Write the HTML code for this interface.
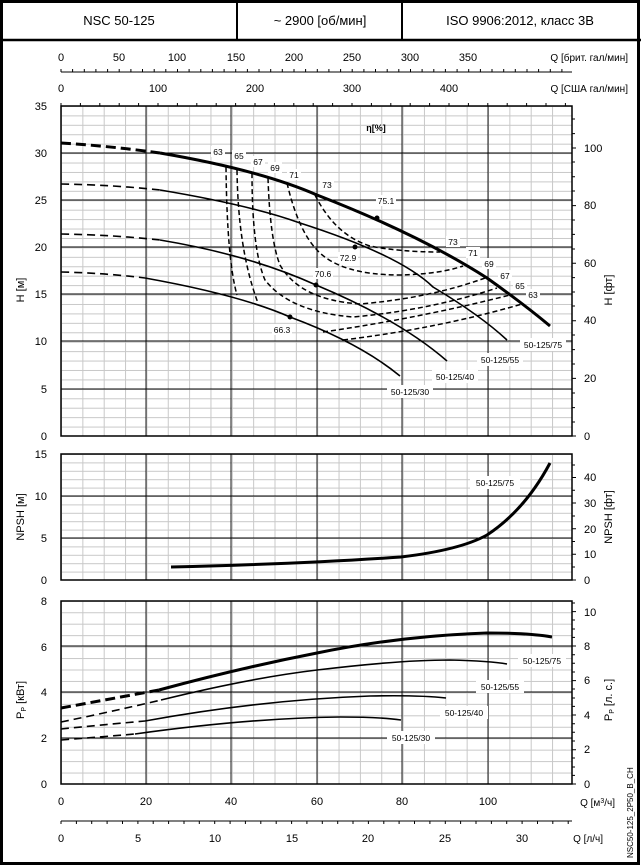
<!DOCTYPE html>
<html><head><meta charset="utf-8"><style>
html,body{margin:0;padding:0;background:#fff}
svg{display:block}
text{font-family:"Liberation Sans",sans-serif;fill:#000}
.s{font-size:11px}
.m{font-size:9px}
</style></head><body>
<svg width="641" height="866" viewBox="0 0 641 866" xmlns="http://www.w3.org/2000/svg">
<defs>
<pattern id="pv" x="61" y="0" width="21.35" height="10" patternUnits="userSpaceOnUse"><line x1="0.5" y1="0" x2="0.5" y2="10" stroke="#c8c8c8" stroke-width="1"/></pattern>
<pattern id="ph" x="0" y="436" width="10" height="9.43" patternUnits="userSpaceOnUse"><line x1="0" y1="0.5" x2="10" y2="0.5" stroke="#c8c8c8" stroke-width="1"/></pattern>
<pattern id="pn" x="0" y="580" width="10" height="8.4" patternUnits="userSpaceOnUse"><line x1="0" y1="0.5" x2="10" y2="0.5" stroke="#c8c8c8" stroke-width="1"/></pattern>
<pattern id="pp" x="0" y="784" width="10" height="11.45" patternUnits="userSpaceOnUse"><line x1="0" y1="0.5" x2="10" y2="0.5" stroke="#c8c8c8" stroke-width="1"/></pattern>
</defs>
<!-- border -->
<rect x="1.5" y="1.5" width="637" height="862" fill="none" stroke="#000" stroke-width="3"/>
<line x1="0" y1="40" x2="641" y2="40" stroke="#000" stroke-width="2.5"/>
<line x1="237" y1="0" x2="237" y2="40" stroke="#000" stroke-width="2"/>
<line x1="402" y1="0" x2="402" y2="40" stroke="#000" stroke-width="2"/>
<text x="119" y="25" text-anchor="middle" style="font-size:13px">NSC 50-125</text>
<text x="320" y="25" text-anchor="middle" style="font-size:13px">~ 2900 [об/мин]</text>
<text x="520" y="25" text-anchor="middle" style="font-size:13px">ISO 9906:2012, класс 3B</text>

<!-- top axes -->
<g class="s" text-anchor="middle">
<text x="61" y="61">0</text><text x="119" y="61">50</text><text x="177" y="61">100</text><text x="236" y="61">150</text><text x="294" y="61">200</text><text x="352" y="61">250</text><text x="410" y="61">300</text><text x="468" y="61">350</text>
<text x="61" y="92">0</text><text x="158" y="92">100</text><text x="255" y="92">200</text><text x="352" y="92">300</text><text x="449" y="92">400</text>
</g>
<text x="628" y="61" text-anchor="end" class="m" style="font-size:10px">Q [брит. гал/мин]</text>
<text x="628" y="92" text-anchor="end" class="m" style="font-size:10px">Q [США гал/мин]</text>
<line x1="61" y1="72" x2="572" y2="72" stroke="#000" stroke-width="1"/>
<path d="M61 72v-3M72.6 72v-3M84.3 72v-3M95.9 72v-3M107.6 72v-3M119.2 72v-3M130.9 72v-3M142.5 72v-3M154.2 72v-3M165.8 72v-3M177.5 72v-3M189.1 72v-3M200.8 72v-3M212.4 72v-3M224.1 72v-3M235.7 72v-3M247.4 72v-3M259 72v-3M270.7 72v-3M282.3 72v-3M294 72v-3M305.6 72v-3M317.3 72v-3M328.9 72v-3M340.6 72v-3M352.2 72v-3M363.9 72v-3M375.5 72v-3M387.2 72v-3M398.8 72v-3M410.5 72v-3M422.1 72v-3M433.8 72v-3M445.4 72v-3M457.1 72v-3M468.7 72v-3M480.4 72v-3M492 72v-3M503.7 72v-3M515.3 72v-3M527 72v-3M538.6 72v-3M550.3 72v-3M561.9 72v-3" stroke="#000"/>
<path d="M61 106v-3M80.4 106v-3M99.8 106v-3M119.2 106v-3M138.6 106v-3M158 106v-3M177.4 106v-3M196.8 106v-3M216.2 106v-3M235.6 106v-3M255 106v-3M274.4 106v-3M293.8 106v-3M313.2 106v-3M332.6 106v-3M352 106v-3M371.4 106v-3M390.8 106v-3M410.2 106v-3M429.6 106v-3M449 106v-3M468.4 106v-3M487.8 106v-3M507.2 106v-3M526.6 106v-3M546 106v-3M565.4 106v-3" stroke="#000"/>

<!-- ===== H chart ===== -->
<rect x="61" y="106" width="511" height="330" fill="url(#pv)"/>
<rect x="61" y="106" width="511" height="330" fill="url(#ph)"/>
<g stroke="#000" stroke-width="0.9">
<line x1="61" y1="153" x2="572" y2="153"/><line x1="61" y1="200" x2="572" y2="200"/><line x1="61" y1="247" x2="572" y2="247"/><line x1="61" y1="294" x2="572" y2="294"/><line x1="61" y1="341" x2="572" y2="341"/><line x1="61" y1="389" x2="572" y2="389"/>
<line x1="146" y1="106" x2="146" y2="436"/><line x1="231" y1="106" x2="231" y2="436"/><line x1="317" y1="106" x2="317" y2="436"/><line x1="402" y1="106" x2="402" y2="436"/><line x1="488" y1="106" x2="488" y2="436"/>
</g>
<rect x="61" y="106" width="511" height="330" fill="none" stroke="#000" stroke-width="1.5"/>
<g class="s" text-anchor="end">
<text x="47" y="110">35</text><text x="47" y="157">30</text><text x="47" y="204">25</text><text x="47" y="251">20</text><text x="47" y="298">15</text><text x="47" y="345">10</text><text x="47" y="393">5</text><text x="47" y="440">0</text>
</g>
<g stroke="#000"><path d="M572 436h4M572 422h3M572 407.6h3M572 393h3M572 378.4h4M572 364h3M572 349.6h3M572 335h3M572 320.8h4M572 306h3M572 292h3M572 277.6h3M572 263.2h4M572 249h3M572 234.4h3M572 220h3M572 205.6h4M572 191h3M572 176.8h3M572 162h3M572 148h4M572 133.6h3M572 119h3"/></g>
<g class="s"><text x="584" y="440">0</text><text x="584" y="382">20</text><text x="584" y="324">40</text><text x="584" y="267">60</text><text x="584" y="209">80</text><text x="584" y="152">100</text></g>
<text transform="translate(24,290) rotate(-90)" text-anchor="middle" class="s">H [м]</text>
<text transform="translate(612,290) rotate(-90)" text-anchor="middle" class="s">H [фт]</text>

<!-- H curves -->
<g fill="none" stroke="#000">
<path d="M61 143 Q110 146 160 153" stroke-width="3" stroke-dasharray="10,5"/>
<path d="M160 153 Q260 170 317 195 Q420 235 487 278 Q525 305 550 326" stroke-width="3"/>
<path d="M61 184 Q115 185 160 190" stroke-width="1.6" stroke-dasharray="8,5"/>
<path d="M160 190 Q250 205 300 223 Q400 255 433 287 Q480 315 507 340" stroke-width="1.6"/>
<path d="M61 234 Q115 235 160 240" stroke-width="1.6" stroke-dasharray="8,5"/>
<path d="M160 240 Q250 255 316 285 Q400 320 447 361" stroke-width="1.6"/>
<path d="M61 272 Q105 273 145 278" stroke-width="1.6" stroke-dasharray="8,5"/>
<path d="M145 278 Q240 295 290 317 Q360 343 400 376" stroke-width="1.6"/>
</g>
<!-- efficiency dashed -->
<g fill="none" stroke="#000" stroke-width="1.5" stroke-dasharray="5,3">
<path d="M315 195 Q335 235 370 246 Q400 252 440 252"/>
<path d="M287 183 Q298 230 317 250 Q340 275 400 275 Q440 274 463 266"/>
<path d="M268 178 Q270 240 280 265 Q300 300 360 304 Q430 298 485 278"/>
<path d="M252 173 Q252 250 265 280 Q290 312 353 317 Q430 310 497 288"/>
<path d="M237 170 Q238 250 258 303"/>
<path d="M323 332 Q420 318 510 295"/>
<path d="M226 167 Q227 260 237 295"/>
<path d="M343 340 Q440 328 522 304"/>
</g>
<g fill="#000"><circle cx="377" cy="218" r="2.5"/><circle cx="355" cy="247" r="2.5"/><circle cx="316" cy="285" r="2.5"/><circle cx="290" cy="317" r="2.5"/></g>
<g class="m" text-anchor="middle" style="font-size:8.5px">
<g fill="#fff" stroke="none">
<rect x="211" y="146" width="14" height="11"/><rect x="232" y="150" width="14" height="11"/><rect x="251" y="156" width="14" height="11"/><rect x="268" y="162" width="14" height="11"/><rect x="287" y="169" width="14" height="11"/><rect x="320" y="179" width="14" height="11"/><rect x="376" y="195" width="20" height="11"/>
<rect x="446" y="236" width="14" height="11"/><rect x="466" y="247" width="14" height="11"/><rect x="482" y="258" width="14" height="11"/><rect x="498" y="270" width="14" height="11"/><rect x="513" y="280" width="14" height="11"/><rect x="526" y="289" width="14" height="11"/>
<rect x="338" y="252" width="20" height="11"/><rect x="313" y="268" width="20" height="11"/><rect x="272" y="324" width="20" height="11"/>
<rect x="520" y="338" width="46" height="13"/><rect x="477" y="353" width="46" height="13"/><rect x="432" y="370" width="46" height="13"/><rect x="387" y="385" width="46" height="13"/>
</g>
<text x="218" y="155">63</text><text x="239" y="159">65</text><text x="258" y="165">67</text><text x="275" y="171">69</text><text x="294" y="178">71</text><text x="327" y="188">73</text><text x="386" y="204">75.1</text>
<text x="453" y="245">73</text><text x="473" y="256">71</text><text x="489" y="267">69</text><text x="505" y="279">67</text><text x="520" y="289">65</text><text x="533" y="298">63</text>
<text x="348" y="261">72.9</text><text x="323" y="277">70.6</text><text x="282" y="333">66.3</text>
<text x="543" y="348">50-125/75</text><text x="500" y="363">50-125/55</text><text x="455" y="380">50-125/40</text><text x="410" y="395">50-125/30</text>
<text x="376" y="131" style="font-weight:bold;font-size:9px">η[%]</text>
</g>

<!-- ===== NPSH chart ===== -->
<rect x="61" y="454" width="511" height="126" fill="url(#pv)"/>
<rect x="61" y="454" width="511" height="126" fill="url(#pn)"/>
<g stroke="#000" stroke-width="0.9">
<line x1="61" y1="496" x2="572" y2="496"/><line x1="61" y1="538" x2="572" y2="538"/>
<line x1="146" y1="454" x2="146" y2="580"/><line x1="231" y1="454" x2="231" y2="580"/><line x1="317" y1="454" x2="317" y2="580"/><line x1="402" y1="454" x2="402" y2="580"/><line x1="488" y1="454" x2="488" y2="580"/>
</g>
<rect x="61" y="454" width="511" height="126" fill="none" stroke="#000" stroke-width="1.5"/>
<g class="s" text-anchor="end"><text x="47" y="458">15</text><text x="47" y="500">10</text><text x="47" y="542">5</text><text x="47" y="584">0</text></g>
<g stroke="#000"><path d="M572 580h4M572 567h3M572 554.3h4M572 541.5h3M572 528.7h4M572 516h3M572 503h4M572 490.3h3M572 477.5h4M572 465h3"/></g>
<g class="s"><text x="584" y="584">0</text><text x="584" y="558">10</text><text x="584" y="533">20</text><text x="584" y="507">30</text><text x="584" y="481">40</text></g>
<text transform="translate(24,517) rotate(-90)" text-anchor="middle" class="s">NPSH [м]</text>
<text transform="translate(612,517) rotate(-90)" text-anchor="middle" class="s">NPSH [фт]</text>
<path d="M171 567 Q300 564 401 557 Q460 550 487 535 Q525 510 550 463" fill="none" stroke="#000" stroke-width="3"/>
<rect x="470" y="476" width="50" height="13" fill="#fff"/>
<text x="495" y="486" text-anchor="middle" class="m" style="font-size:8.5px">50-125/75</text>

<!-- ===== Power chart ===== -->
<rect x="61" y="601" width="511" height="183" fill="url(#pv)"/>
<rect x="61" y="601" width="511" height="183" fill="url(#pp)"/>
<g stroke="#000" stroke-width="0.9">
<line x1="61" y1="738" x2="572" y2="738"/><line x1="61" y1="692" x2="572" y2="692"/><line x1="61" y1="646" x2="572" y2="646"/>
<line x1="146" y1="601" x2="146" y2="784"/><line x1="231" y1="601" x2="231" y2="784"/><line x1="317" y1="601" x2="317" y2="784"/><line x1="402" y1="601" x2="402" y2="784"/><line x1="488" y1="601" x2="488" y2="784"/>
</g>
<rect x="61" y="601" width="511" height="183" fill="none" stroke="#000" stroke-width="1.5"/>
<g class="s" text-anchor="end"><text x="47" y="605">8</text><text x="47" y="651">6</text><text x="47" y="696">4</text><text x="47" y="742">2</text><text x="47" y="788">0</text></g>
<g stroke="#000"><path d="M572 784h4M572 775.4h3M572 767h3M572 758h3M572 749.7h4M572 741h3M572 732.3h3M572 723.7h3M572 715h4M572 706.4h3M572 698h3M572 689h3M572 680.6h4M572 672h3M572 663.3h3M572 654.7h3M572 646h4M572 637.4h3M572 629h3M572 620h3M572 611.6h4M572 603h3"/></g>
<g class="s"><text x="584" y="788">0</text><text x="584" y="753">2</text><text x="584" y="719">4</text><text x="584" y="684">6</text><text x="584" y="650">8</text><text x="584" y="616">10</text></g>
<text transform="translate(24,700) rotate(-90)" text-anchor="middle" class="s">P<tspan style="font-size:7px" dy="2">P</tspan><tspan dy="-2"> [кВт]</tspan></text>
<text transform="translate(612,700) rotate(-90)" text-anchor="middle" class="s">P<tspan style="font-size:7px" dy="2">P</tspan><tspan dy="-2"> [л. с.]</tspan></text>
<g fill="none" stroke="#000">
<path d="M61 708 Q110 699 159 690" stroke-width="3" stroke-dasharray="10,5"/>
<path d="M159 690 Q240 668 317 653 Q400 636 487 633 Q530 633 552 637" stroke-width="3"/>
<path d="M61 722 Q110 712 161 700" stroke-width="1.6" stroke-dasharray="8,5"/>
<path d="M161 700 Q250 678 317 670 Q400 660 450 660 Q490 661 507 664" stroke-width="1.6"/>
<path d="M61 729 Q100 725 145 721" stroke-width="1.6" stroke-dasharray="8,5"/>
<path d="M145 721 Q260 700 370 696 Q420 695 446 698" stroke-width="1.6"/>
<path d="M61 740 Q100 737 135 734" stroke-width="1.6" stroke-dasharray="8,5"/>
<path d="M135 734 Q250 718 340 717 Q380 717 401 720" stroke-width="1.6"/>
</g>
<g fill="#fff"><rect x="518" y="654" width="48" height="13"/><rect x="476" y="680" width="48" height="13"/><rect x="440" y="706" width="48" height="13"/><rect x="387" y="731" width="48" height="13"/></g>
<g class="m" text-anchor="middle" style="font-size:8.5px">
<text x="542" y="664">50-125/75</text><text x="500" y="690">50-125/55</text><text x="464" y="716">50-125/40</text><text x="411" y="741">50-125/30</text>
</g>

<!-- bottom axes -->
<g class="s" text-anchor="middle">
<text x="61" y="805">0</text><text x="146" y="805">20</text><text x="231" y="805">40</text><text x="317" y="805">60</text><text x="402" y="805">80</text><text x="488" y="805">100</text>
<text x="61" y="842">0</text><text x="138" y="842">5</text><text x="215" y="842">10</text><text x="292" y="842">15</text><text x="368" y="842">20</text><text x="445" y="842">25</text><text x="522" y="842">30</text>
</g>
<text x="615" y="806" text-anchor="end" class="m" style="font-size:10px">Q [м<tspan dy="-3" style="font-size:7px">3</tspan><tspan dy="3">/ч]</tspan></text>
<text x="603" y="842" text-anchor="end" class="m" style="font-size:10px">Q [л/ч]</text>
<line x1="61" y1="821" x2="572" y2="821" stroke="#000"/>
<path d="M61 821v3M76.4 821v3M91.7 821v3M107.1 821v3M122.5 821v3M137.9 821v3M153.2 821v3M168.6 821v3M184 821v3M199.3 821v3M214.7 821v3M230.1 821v3M245.4 821v3M260.8 821v3M276.2 821v3M291.6 821v3M306.9 821v3M322.3 821v3M337.7 821v3M353 821v3M368.4 821v3M383.8 821v3M399.1 821v3M414.5 821v3M429.9 821v3M445.3 821v3M460.6 821v3M476 821v3M491.4 821v3M506.7 821v3M522.1 821v3M537.5 821v3M552.8 821v3M568.2 821v3" stroke="#000"/>
<text transform="translate(633,858) rotate(-90)" style="font-size:8px">NSC50-125_2P50_B_CH</text>
</svg>
</body></html>
